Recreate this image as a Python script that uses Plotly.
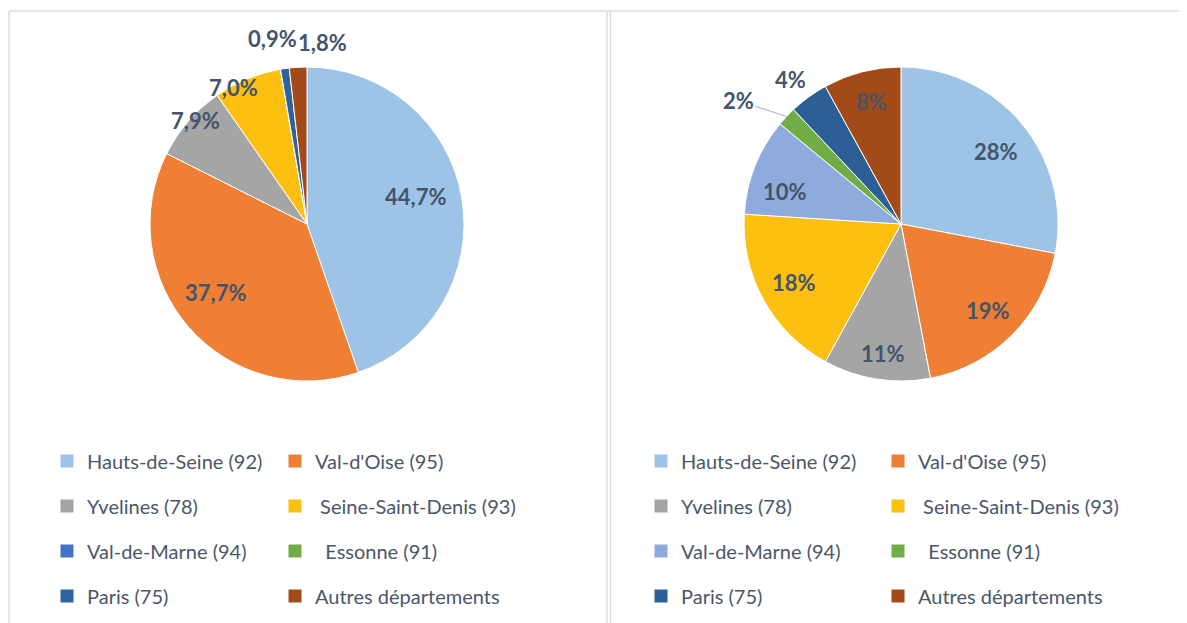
import math
import plotly.graph_objects as go

# categories and values (percent of total)
departements = [
    "Hauts-de-Seine (92)", "Val-d'Oise (95)", "Yvelines (78)",
    "\u00a0Seine-Saint-Denis (93)", "Val-de-Marne (94)", "\u00a0\u00a0Essonne (91)",
    "Paris (75)", "Autres départements",
]
left_values = [44.7, 37.7, 7.9, 7.0, 0, 0, 0.9, 1.8]
right_values = [28, 19, 11, 18, 10, 2, 4, 8]

left_colors = ["#9dc3e6", "#ef7f34", "#a5a5a5", "#fdc010",
               "#4472c4", "#70ad47", "#30639b", "#a34b18"]
right_colors = ["#9dc3e6", "#ef7f34", "#a5a5a5", "#fdc010",
                "#8faadc", "#70ad47", "#2c5f96", "#a34b18"]

# the page body adds an 8px margin, so the figure is a bit smaller than the window
OFF = 8
W, H = 1187 - OFF, 623 - OFF
R = 157
LEFT_C = (307, 224)
RIGHT_C = (901, 224)
LABEL_COLOR = "#44546a"
FONT = "Lato"

# label placement: radial factor and angular nudge (degrees) per slice
left_lab = [(0.71, -4.5), (0.73, 4.3), (0.97, 2), (0.99, -6), None, None, (1.2, -2.6), (1.16, 8.2)]
right_lab = [(0.76, 2), (0.78, 0), (0.83, -1), (0.78, 0), (0.77, -6), (1.3, -6), (1.16, -1.5), (0.80, 1)]


def paper(x, y):
    return (x - OFF) / W, 1 - (y - OFF) / H


def domain(c):
    x0, y0 = paper(c[0] - R, c[1] + R)
    x1, y1 = paper(c[0] + R, c[1] - R)
    return dict(x=[x0, x1], y=[y0, y1])


fig = go.Figure()

for vals, cols, c in [(left_values, left_colors, LEFT_C), (right_values, right_colors, RIGHT_C)]:
    fig.add_trace(go.Pie(
        labels=departements, values=vals, sort=False, direction="clockwise",
        rotation=0, textinfo="none", showlegend=False, domain=domain(c),
        marker=dict(colors=cols, line=dict(color="white", width=1)),
    ))

annotations = []


def add_labels(vals, styles, c, fmt):
    total = sum(vals)
    cum = 0
    for v, st in zip(vals, styles):
        start = cum
        cum += v
        if v == 0 or st is None:
            continue
        k, off = st
        mid = (start + v / 2) / total * 360
        a = math.radians(mid + off)
        tx = c[0] + k * R * math.sin(a)
        ty = c[1] - k * R * math.cos(a)
        x, y = paper(tx, ty)
        ann = dict(x=x, y=y, xref="paper", yref="paper", text=fmt(v), showarrow=False,
                   xanchor="center", yanchor="middle",
                   font=dict(family=FONT, size=22, color=LABEL_COLOR, weight="bold"))
        if k > 1.25:
            am = math.radians(mid)
            ex, ey = c[0] + R * math.sin(am), c[1] - R * math.cos(am)
            x, y = paper(ex, ey)
            ann.update(x=x, y=y, showarrow=True, arrowhead=0, arrowwidth=1.2,
                       arrowcolor="#a9b8cb", ax=tx - ex, ay=ty - ey, standoff=0)
        annotations.append(ann)


add_labels(left_values, left_lab, LEFT_C, lambda v: f"{v:.1f}".replace(".", ",") + "%")
add_labels(right_values, right_lab, RIGHT_C, lambda v: f"{v:.0f}%")

# legends: two columns under each pie
legend_pos = {"legend": 47, "legend2": 275, "legend3": 641, "legend4": 878}
for i, name in enumerate(departements):
    for side, cols in [(0, left_colors), (1, right_colors)]:
        col = i % 2
        leg = ["legend", "legend2", "legend3", "legend4"][side * 2 + col]
        fig.add_trace(go.Scatter(
            x=[None], y=[None], mode="markers", name=name, legend=leg,
            legendgroup=f"{side}-{i}", showlegend=True, hoverinfo="skip",
            marker=dict(symbol="square", size=13, color=cols[i]),
        ))

legend_style = dict(
    font=dict(family=FONT, size=20, color="#4b5768"),
    bgcolor="rgba(0,0,0,0)", tracegroupgap=16, yanchor="top", xanchor="left",
    orientation="v",
)
layout_legends = {}
for k, v in legend_pos.items():
    lx, ly = paper(v, 441.5)
    layout_legends[k] = dict(legend_style, x=lx, y=ly)

# panel frames
frame = "#d9dee6"
top_y = paper(0, 11)[1]
shapes = [
    dict(type="line", xref="paper", yref="paper", x0=paper(9, 0)[0], x1=1, y0=top_y, y1=top_y,
         line=dict(color=frame, width=1.5)),
]
for fx in [9, 607, 610.5]:
    px_ = paper(fx, 0)[0]
    shapes.append(dict(type="line", xref="paper", yref="paper", x0=px_, x1=px_, y0=0, y1=top_y,
                       line=dict(color=frame, width=1.5)))

fig.update_layout(
    width=W, height=H, margin=dict(l=0, r=0, t=0, b=0),
    paper_bgcolor="white", plot_bgcolor="white",
    xaxis=dict(visible=False), yaxis=dict(visible=False),
    annotations=annotations, shapes=shapes,
    **layout_legends,
)

fig.write_html("out.html")
